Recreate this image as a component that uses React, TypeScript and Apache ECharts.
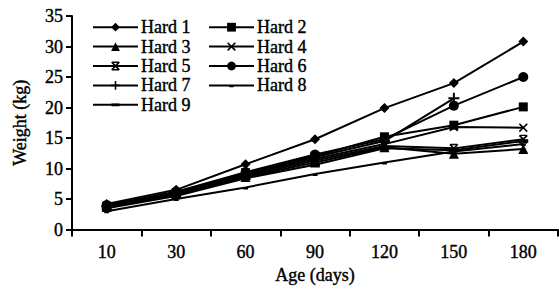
import React, { useEffect, useRef } from "react";
import * as echarts from "echarts";

const ages = ["10", "30", "60", "90", "120", "150", "180"];
const hard1 = [4.2, 6.5, 10.7, 14.8, 19.9, 24.0, 30.8];
const hard2 = [3.8, 6.0, 9.3, 12.0, 15.2, 17.1, 20.1];
const hard3 = [3.7, 5.8, 8.6, 11.0, 13.5, 12.4, 13.2];
const hard4 = [3.9, 5.9, 9.0, 11.6, 14.0, 16.8, 16.7];
const hard5 = [3.6, 5.7, 8.8, 11.3, 13.7, 13.3, 14.8];
const hard6 = [4.0, 6.2, 9.4, 12.3, 14.8, 20.3, 25.0];
const hard7 = [3.8, 6.1, 9.1, 11.9, 14.5, 21.5, null];
const hard8 = [3.0, 5.0, 6.9, 9.1, 11.0, 12.8, 14.0];
const hard9 = [3.5, 5.5, 8.4, 10.6, 13.3, 13.0, 14.5];

const FONT = "'Liberation Serif', 'Times New Roman', serif";

const X_PATH =
  "path://M0,1.3 L1.3,0 L5,3.7 L8.7,0 L10,1.3 L6.3,5 L10,8.7 L8.7,10 L5,6.3 L1.3,10 L0,8.7 L3.7,5 Z";
const PLUS_PATH = "path://M4.1,0 H5.9 V4.1 H10 V5.9 H5.9 V10 H4.1 V5.9 H0 V4.1 H4.1 Z";
const STAR_PATH =
  "path://M0,1.3 L1.3,0 L5,3.7 L8.7,0 L10,1.3 L6.3,5 L10,8.7 L8.7,10 L5,6.3 L1.3,10 L0,8.7 L3.7,5 Z M1,0 H9 V1.5 H1 Z M1,8.5 H9 V10 H1 Z";
// corner anchors keep the bounding box square so the dash keeps its shape
const DASH_SMALL = "path://M0,0 L0.05,0 L0,0.05 Z M10,10 L9.95,10 L10,9.95 Z M2.5,5 H7.5 V7 H2.5 Z";
const DASH_WIDE = "path://M0,0 L0.05,0 L0,0.05 Z M10,10 L9.95,10 L10,9.95 Z M0.5,3.4 H9.5 V6.6 H0.5 Z";

const seriesDefs: { name: string; data: (number | null)[]; symbol: string; size: number }[] = [
  { name: "Hard 1", data: hard1, symbol: "diamond", size: 10 },
  { name: "Hard 2", data: hard2, symbol: "rect", size: 9 },
  { name: "Hard 3", data: hard3, symbol: "triangle", size: 10 },
  { name: "Hard 4", data: hard4, symbol: X_PATH, size: 9 },
  { name: "Hard 5", data: hard5, symbol: STAR_PATH, size: 9 },
  { name: "Hard 6", data: hard6, symbol: "circle", size: 10 },
  { name: "Hard 7", data: hard7, symbol: PLUS_PATH, size: 11 },
  { name: "Hard 8", data: hard8, symbol: DASH_SMALL, size: 10 },
  { name: "Hard 9", data: hard9, symbol: DASH_WIDE, size: 11 },
];

const textLook = {
  fontFamily: FONT,
  fontSize: 18,
  color: "#000",
  textBorderColor: "#000",
  textBorderWidth: 0.4,
};

export default function App() {
  const ref = useRef<HTMLDivElement>(null);
  useEffect(() => {
    if (!ref.current) return;
    const chart = echarts.init(ref.current, undefined, { renderer: "svg" });
    const legendCommon = {
      orient: "vertical",
      itemWidth: 45,
      itemHeight: 11,
      itemGap: 1,
      textStyle: { ...textLook, padding: [0, 0, 0, -2] },
      padding: 0,
    };
    chart.setOption({
      animation: false,
      backgroundColor: "#fff",
      textStyle: { fontFamily: FONT },
      grid: { left: 72, right: 1, top: 16, bottom: 53, containLabel: false },
      legend: [
        {
          ...legendCommon,
          left: 92,
          top: 18,
          data: ["Hard 1", "Hard 3", "Hard 5", "Hard 7", "Hard 9"],
        },
        {
          ...legendCommon,
          left: 208,
          top: 18,
          data: ["Hard 2", "Hard 4", "Hard 6", "Hard 8"],
        },
      ],
      xAxis: {
        type: "category",
        data: ages,
        boundaryGap: true,
        name: "Age (days)",
        nameLocation: "middle",
        nameGap: 33,
        nameTextStyle: textLook,
        axisLine: { lineStyle: { color: "#000", width: 2 } },
        axisTick: { show: true, interval: 0, length: 7, lineStyle: { color: "#000", width: 2 } },
        axisLabel: { ...textLook, margin: 13, interval: 0 },
        splitLine: { show: false },
      },
      yAxis: {
        type: "value",
        min: 0,
        max: 35,
        interval: 5,
        name: "Weight (kg)",
        nameLocation: "middle",
        nameGap: 43,
        nameRotate: 90,
        nameTextStyle: textLook,
        axisLine: { show: true, lineStyle: { color: "#000", width: 2 } },
        axisTick: { show: true, length: 6, lineStyle: { color: "#000", width: 2 } },
        axisLabel: { ...textLook, margin: 9 },
        splitLine: { show: false },
      },
      series: seriesDefs.map((s) => ({
        name: s.name,
        type: "line",
        data: s.data,
        symbol: s.symbol,
        symbolSize: s.size,
        showAllSymbol: true,
        connectNulls: false,
        lineStyle: { color: "#000", width: 2 },
        itemStyle: { color: "#000", borderColor: "#000", borderWidth: 0 },
        emphasis: { disabled: true },
      })),
    });
    return () => chart.dispose();
  }, []);
  return (
    <div
      ref={ref}
      style={{ position: "fixed", left: 0, top: 0, width: 559, height: 289, background: "#fff" }}
    />
  );
}
